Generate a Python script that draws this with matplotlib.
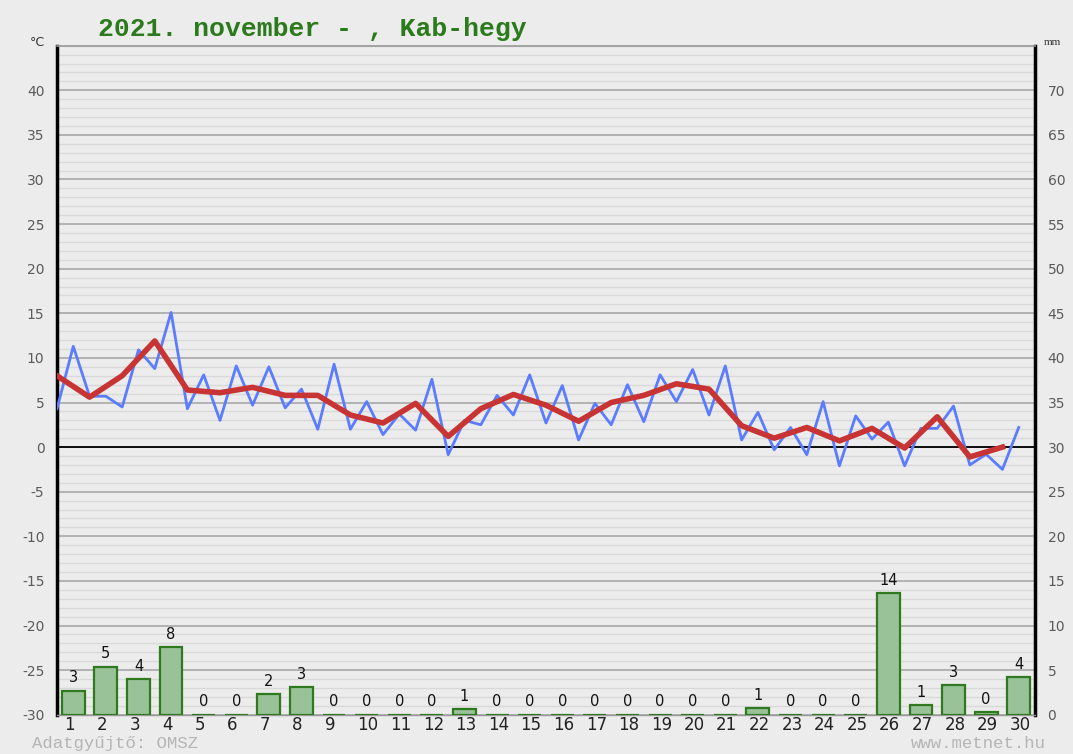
import matplotlib; matplotlib.use("Agg")
import matplotlib.pyplot as plt
import numpy as np
from matplotlib.ticker import MultipleLocator

plt.rcParams["axes.unicode_minus"] = False
BG = "#ececec"
# days of the month and daily precipitation (mm)
days = np.arange(1, 31)
precip = [2.7, 5.4, 4.0, 7.6, 0, 0, 2.3, 3.1, 0, 0, 0, 0, 0.6, 0, 0,
          0, 0, 0, 0, 0, 0, 0.7, 0, 0, 0, 13.6, 1.1, 3.3, 0.3, 4.2]
# half-daily temperature (°C), starting at the beginning of day 1
temp_half = [4.3, 11.3, 5.7, 5.7, 4.5, 10.9, 8.8, 15.1, 4.3, 8.1, 3.0, 9.1,
             4.7, 9.0, 4.4, 6.5, 2.0, 9.3, 2.0, 5.1, 1.4, 3.7, 1.9, 7.6,
             -0.85, 3.0, 2.5, 5.8, 3.6, 8.1, 2.7, 6.9, 0.8, 4.9, 2.5, 7.0,
             2.85, 8.1, 5.1, 8.7, 3.6, 9.1, 0.8, 3.9, -0.3, 2.2, -0.85, 5.1,
             -2.1, 3.5, 0.9, 2.8, -2.1, 2.1, 2.1, 4.6, -2.0, -0.8, -2.5, 2.2]
# daily mean temperature (°C), at the start of each day
temp_mean = [8.0, 5.6, 8.0, 11.9, 6.4, 6.1, 6.7, 5.8, 5.8, 3.6, 2.7, 4.9,
             1.2, 4.3, 5.9, 4.7, 2.9, 5.0, 5.8, 7.1, 6.5, 2.4, 1.0, 2.2,
             0.7, 2.1, -0.1, 3.4, -1.1, 0.0]

fig = plt.figure(figsize=(10.73, 7.54), dpi=100, facecolor=BG)
ax = fig.add_axes([0.0531, 0.0521, 0.9115, 0.8873], facecolor=BG)
ax.set_xlim(0.5, 30.5); ax.set_ylim(-30, 45)
ax.yaxis.set_minor_locator(MultipleLocator(1))
ax.set_yticks(np.arange(-30, 41, 5))
ax.grid(which="minor", axis="y", color="#d9d9d9", lw=1.0)
ax.grid(which="major", axis="y", color="#a8a8a8", lw=1.2)
ax.set_axisbelow(True)
ax.axhline(0, color="black", lw=1.3, zorder=2)
ax.tick_params(axis="y", which="both", length=0, labelsize=10, labelcolor="#5a5a5a", pad=9)
ax.set_xticks(days - 0.28, labels=[str(d) for d in days], ha="left")
ax.tick_params(axis="x", length=0, labelsize=12, labelcolor="#222222", pad=1)
for s in ("left", "right"):
    ax.spines[s].set_linewidth(2.5); ax.spines[s].set_color("black")
ax.spines["top"].set_color("#999999"); ax.spines["top"].set_linewidth(1.2)
ax.spines["bottom"].set_color("#999999"); ax.spines["bottom"].set_linewidth(1.0)

x_half = 0.5 + np.arange(len(temp_half)) * 0.5
x_mean = days - 0.5
ax.plot(x_half, temp_half, color="#5b7cff", lw=2.0, zorder=4)
ax.plot(x_mean, temp_mean, color="#c83434", lw=4.0, zorder=5)

ax2 = ax.twinx()
ax2.set_ylim(0, 75)
ax2.set_yticks(np.arange(0, 71, 5))
ax2.tick_params(axis="y", length=0, labelsize=10, labelcolor="#5a5a5a", pad=9)
for s in ax2.spines.values():
    s.set_visible(False)
ax2.bar(days, precip, width=0.7, color="#99c299", edgecolor="#2f7a1f", lw=1.6, zorder=3)
for d, v in zip(days, precip):
    ax2.text(d, v + 0.6, f"{v:.0f}", ha="center", va="bottom", fontsize=10.5, color="#111111")

fig.text(0.0914, 0.962, "2021. november - , Kab-hegy", fontsize=19, fontweight="bold",
         family="Liberation Mono", color="#2b7a1b", va="center")
fig.text(0.028, 0.944, "°C", fontsize=9, color="#333333", va="center")
fig.text(0.973, 0.944, "mm", fontsize=8, color="#333333", va="center", family="Liberation Serif")
fig.text(0.030, 0.014, "Adatgyűjtő: OMSZ", fontsize=12.5, color="#b5b5b5", family="Liberation Mono", va="center")
fig.text(0.975, 0.014, "www.metnet.hu", fontsize=12.5, color="#b5b5b5", family="Liberation Mono",
         va="center", ha="right")

fig.savefig("out.png", dpi=100, facecolor=BG)
